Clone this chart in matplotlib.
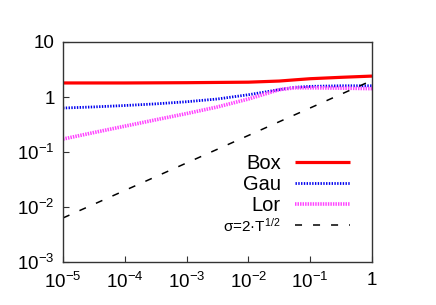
import math
import matplotlib
matplotlib.use("Agg")
import matplotlib.pyplot as plt
from matplotlib.ticker import FixedLocator, FuncFormatter, NullLocator

plt.rcParams['font.family'] = ['Liberation Sans', 'DejaVu Sans']
plt.rcParams['mathtext.fontset'] = 'custom'
plt.rcParams['mathtext.rm'] = 'Liberation Sans'
plt.rcParams['mathtext.it'] = 'Liberation Sans:italic'
plt.rcParams['mathtext.default'] = 'regular'

# data (x = T)
x = [1e-5, 10**-4.5, 1e-4, 10**-3.5, 1e-3, 10**-2.5, 1e-2, 10**-1.5,
     10**-1.25, 1e-1, 10**-0.5, 1.0]
box = [1.80, 1.80, 1.80, 1.81, 1.82, 1.84, 1.86, 1.95, 2.05, 2.15, 2.28, 2.40]
gau = [0.63, 0.66, 0.70, 0.75, 0.82, 0.92, 1.10, 1.36, 1.50, 1.56, 1.60, 1.60]
lor = [0.172, 0.226, 0.295, 0.385, 0.50, 0.66, 0.92, 1.36, 1.47, 1.47, 1.45, 1.42]
ref_x = [1e-5, 1.0]
ref_y = [0.00632, 2.0]

labels = ['Box', 'Gau', 'Lor', r'σ=2·T$^{1/2}$']
xticks = [1e-5, 1e-4, 1e-3, 1e-2, 1e-1, 1]
yticks = [1e-3, 1e-2, 1e-1, 1, 10]


def fmt(v, pos):
    e = int(round(math.log10(v)))
    if e == 0:
        return '1'
    if e == 1:
        return '10'
    return r'$10^{%d}$' % e


fig = plt.figure(figsize=(4.36, 3.05), dpi=100)
ax = fig.add_axes([63 / 436, 1 - 262 / 305, (372 - 63) / 436, (262 - 42) / 305])
ax.set_xscale('log')
ax.set_yscale('log')

ax.plot(x, box, color='#ff0000', lw=2.3, label=labels[0], solid_capstyle='butt')
ax.plot(x, gau, color='#0000ee', lw=2.0, linestyle=(0, (0.5, 0.5)), label=labels[1])
ax.plot(x, lor, color='#ff44ff', lw=2.6, linestyle=(0, (0.4, 0.3)), label=labels[2])
ax.plot(ref_x, ref_y, color='black', lw=1.1, linestyle=(0, (4.6, 7.2)), label=labels[3])

ax.set_xlim(1e-5, 1)
ax.set_ylim(1e-3, 10)
ax.xaxis.set_major_locator(FixedLocator(xticks))
ax.yaxis.set_major_locator(FixedLocator(yticks))
ax.xaxis.set_minor_locator(NullLocator())
ax.yaxis.set_minor_locator(NullLocator())
ax.xaxis.set_major_formatter(FuncFormatter(fmt))
ax.yaxis.set_major_formatter(FuncFormatter(fmt))
ax.tick_params(which='major', direction='in', length=4, width=0.8,
               labelsize=13.5, top=False, right=False, color='#333333')
ax.tick_params(axis='x', pad=7)
ax.tick_params(axis='y', pad=6)
for s in ax.spines.values():
    s.set_color('#333333')
    s.set_linewidth(1.0)

leg = ax.legend(loc='upper right', bbox_to_anchor=((350 - 63) / 309, 0.49),
                frameon=False, markerfirst=False, handlelength=2.73,
                handletextpad=0.7, labelspacing=0.1, fontsize=14.5,
                borderaxespad=0, borderpad=0)
texts = leg.get_texts()
texts[3].set_fontsize(11)
for col in leg._legend_handle_box.get_children():
    col.align = 'right'

fig.savefig('out.png', dpi=100)
